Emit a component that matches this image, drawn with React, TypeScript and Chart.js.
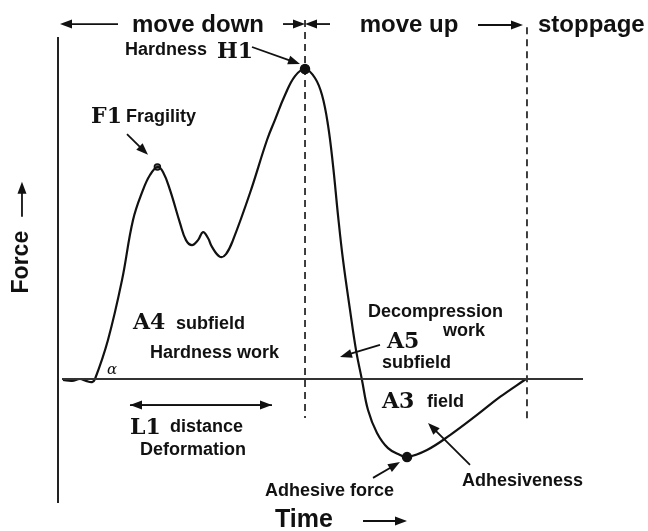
import React, { useEffect, useRef } from "react";
import { Chart, registerables } from "chart.js";

Chart.register(...registerables);

// Texture profile curve (time units, force units; H1 peak = 100)
const curveTime = [0.95, 2.67, 4.19, 5.33, 6.48, 7.05, 9.52, 12.19, 14.29, 16.19, 17.52, 18.93, 20.0, 21.33, 23.24, 24.38, 25.52, 26.67, 27.62, 28.57, 29.33, 30.86, 32.0, 33.33, 36.57, 39.81, 41.33, 43.24, 45.14, 47.05, 48.95, 50.29, 51.43, 52.38, 53.33, 54.29, 55.62, 56.76, 57.9, 59.05, 60.76, 62.86, 65.14, 66.48, 70.29, 74.67, 79.81, 84.19, 89.14];
const curveForce = [-0.3, -0.6, 0.0, -0.6, -1.0, 0.0, 12.6, 31.9, 51.3, 61.0, 65.8, 68.4, 66.8, 61.0, 50.3, 44.8, 43.2, 44.8, 47.4, 45.5, 42.6, 39.4, 40.3, 44.8, 60.0, 77.1, 83.6, 91.6, 97.7, 100.0, 97.1, 91.6, 81.9, 69.0, 52.9, 38.4, 22.3, 9.4, -0.3, -10.0, -17.4, -22.3, -24.5, -25.2, -22.9, -18.1, -11.6, -5.8, 0.0];

// Key points: F1 (fragility), H1 (hardness), adhesive force minimum
const keyTime = [18.93, 47.05, 66.48];
const keyForce = [68.4, 100.0, -25.2];

// Phase boundaries (time) and baseline extent
const phaseBoundaries = [47.05, 89.33];
const boundaryTop = [115.8, 113.5];
const boundaryBottom = [-12.6, -13.9];
const baselineTime = [0.76, 100];

const X_MIN = 0, X_MAX = 100, Y_MIN = -40, Y_MAX = 110;

const SANS = "'Liberation Sans', Arial, sans-serif";
const SERIF = "'DejaVu Serif', serif";

// Annotation texts: [text, x, y, font, align]
const labels: [string, number, number, string, CanvasTextAlign][] = [
  ["move down", 26.67, 114.2, `bold 24px ${SANS}`, "center"],
  ["move up", 66.86, 114.2, `bold 24px ${SANS}`, "center"],
  ["stoppage", 91.43, 114.2, `bold 24px ${SANS}`, "left"],
  ["Hardness", 12.76, 106.1, `bold 18px ${SANS}`, "left"],
  ["H1", 30.29, 105.5, `bold 22px ${SERIF}`, "left"],
  ["F1", 6.29, 84.5, `bold 22px ${SERIF}`, "left"],
  ["Fragility", 12.95, 84.5, `bold 18px ${SANS}`, "left"],
  ["A4", 14.29, 18.1, `bold 22px ${SERIF}`, "left"],
  ["subfield", 22.48, 17.7, `bold 18px ${SANS}`, "left"],
  ["Hardness work", 17.52, 8.4, `bold 18px ${SANS}`, "left"],
  ["\u03b1", 10.29, 2.9, `italic 15px ${SERIF}`, "center"],
  ["L1", 13.71, -15.8, `bold 22px ${SERIF}`, "left"],
  ["distance", 21.33, -15.5, `bold 18px ${SANS}`, "left"],
  ["Deformation", 15.62, -22.9, `bold 18px ${SANS}`, "left"],
  ["Decompression", 59.05, 21.6, `bold 18px ${SANS}`, "left"],
  ["work", 73.33, 15.5, `bold 18px ${SANS}`, "left"],
  ["A5", 62.67, 11.9, `bold 22px ${SERIF}`, "left"],
  ["subfield", 61.71, 5.2, `bold 18px ${SANS}`, "left"],
  ["A3", 61.71, -7.4, `bold 22px ${SERIF}`, "left"],
  ["field", 70.29, -7.4, `bold 18px ${SANS}`, "left"],
  ["Adhesiveness", 76.95, -32.9, `bold 18px ${SANS}`, "left"],
  ["Adhesive force", 39.43, -36.1, `bold 18px ${SANS}`, "left"],
  ["Time", 41.33, -45.5, `bold 25px ${SANS}`, "left"],
];

// Arrows: [fromX, fromY, tipX, tipY]
const arrows: [number, number, number, number][] = [
  [11.43, 114.5, 0.38, 114.5],
  [42.86, 114.5, 47.05, 114.5],
  [51.81, 114.5, 47.05, 114.5],
  [80.0, 114.2, 88.57, 114.2],
  [36.95, 107.1, 46.1, 101.6],
  [13.14, 79.0, 17.14, 72.3],
  [-6.86, 52.3, -6.86, 63.6],
  [13.71, -8.4, 40.76, -8.4],
  [40.76, -8.4, 13.71, -8.4],
  [61.33, 11.0, 53.71, 7.1],
  [78.48, -27.7, 70.48, -14.2],
  [60.0, -31.9, 65.14, -26.8],
  [58.1, -45.8, 66.48, -45.8],
];

const annotationPlugin = {
  id: "tpaAnnotations",
  afterDatasetsDraw(chart: any) {
    const { ctx } = chart;
    const xs = chart.scales.x;
    const ys = chart.scales.y;
    const px = (v: number) => xs.getPixelForValue(v);
    const py = (v: number) => ys.getPixelForValue(v);
    ctx.save();
    ctx.fillStyle = "#111";
    ctx.strokeStyle = "#111";
    for (const [x1, y1, x2, y2] of arrows) {
      const ax = px(x1), ay = py(y1), bx = px(x2), by = py(y2);
      const ang = Math.atan2(by - ay, bx - ax);
      const len = 12, hw = 4.5;
      ctx.lineWidth = 1.8;
      ctx.beginPath();
      ctx.moveTo(ax, ay);
      ctx.lineTo(bx - Math.cos(ang) * len * 0.8, by - Math.sin(ang) * len * 0.8);
      ctx.stroke();
      ctx.beginPath();
      ctx.moveTo(bx, by);
      ctx.lineTo(bx - Math.cos(ang) * len - Math.sin(ang) * hw, by - Math.sin(ang) * len + Math.cos(ang) * hw);
      ctx.lineTo(bx - Math.cos(ang) * len + Math.sin(ang) * hw, by - Math.sin(ang) * len - Math.cos(ang) * hw);
      ctx.closePath();
      ctx.fill();
    }
    ctx.textBaseline = "middle";
    for (const [t, x, y, font, align] of labels) {
      ctx.font = font;
      ctx.textAlign = align;
      ctx.fillText(t, px(x), py(y));
    }
    ctx.save();
    ctx.translate(px(-6.86), py(37.7));
    ctx.rotate(-Math.PI / 2);
    ctx.font = `bold 23px ${SANS}`;
    ctx.textAlign = "center";
    ctx.fillText("Force", 0, 0);
    ctx.restore();
    ctx.restore();
  },
};

export default function App() {
  const ref = useRef<HTMLCanvasElement>(null);
  useEffect(() => {
    if (!ref.current) return;
    const curve = curveTime.map((t, i) => ({ x: t, y: curveForce[i] }));
    const keys = keyTime.map((t, i) => ({ x: t, y: keyForce[i] }));
    const dashed = phaseBoundaries.map((t, i) => ({
      type: "line" as const,
      data: [{ x: t, y: boundaryTop[i] }, { x: t, y: boundaryBottom[i] }],
      borderColor: "#111",
      borderWidth: 1.6,
      borderDash: [7, 5],
      pointRadius: 0,
      clip: false as any,
    }));
    const chart = new Chart(ref.current, {
      type: "line",
      data: {
        datasets: [
          {
            data: [{ x: 0, y: Y_MIN }, { x: 0, y: 110.3 }],
            borderColor: "#222",
            borderWidth: 2,
            pointRadius: 0,
            clip: false as any,
          },
          {
            data: [{ x: baselineTime[0], y: 0 }, { x: baselineTime[1], y: 0 }],
            borderColor: "#333",
            borderWidth: 2,
            pointRadius: 0,
            clip: false as any,
          },
          ...dashed,
          {
            data: curve,
            borderColor: "#111",
            borderWidth: 2.2,
            pointRadius: 0,
            tension: 0.4,
            clip: false as any,
          },
          {
            data: keys,
            showLine: false,
            pointRadius: [3, 4.5, 4.5],
            pointBackgroundColor: ["#666", "#111", "#111"],
            pointBorderColor: "#111",
            pointBorderWidth: 1.5,
            clip: false as any,
          } as any,
        ],
      },
      options: {
        responsive: false,
        animation: false,
        devicePixelRatio: 1,
        layout: { padding: { left: 58, right: 65, top: 38, bottom: 28 } },
        scales: {
          x: { type: "linear", min: X_MIN, max: X_MAX, display: false },
          y: { type: "linear", min: Y_MIN, max: Y_MAX, display: false },
        },
        plugins: { legend: { display: false }, tooltip: { enabled: false } },
        events: [],
      },
      plugins: [annotationPlugin],
    });
    return () => chart.destroy();
  }, []);
  return (
    <div style={{ position: "absolute", left: 0, top: 0, width: 648, height: 531, background: "#fff" }}>
      <canvas ref={ref} width={648} height={531} style={{ display: "block", width: 648, height: 531 }} />
    </div>
  );
}
